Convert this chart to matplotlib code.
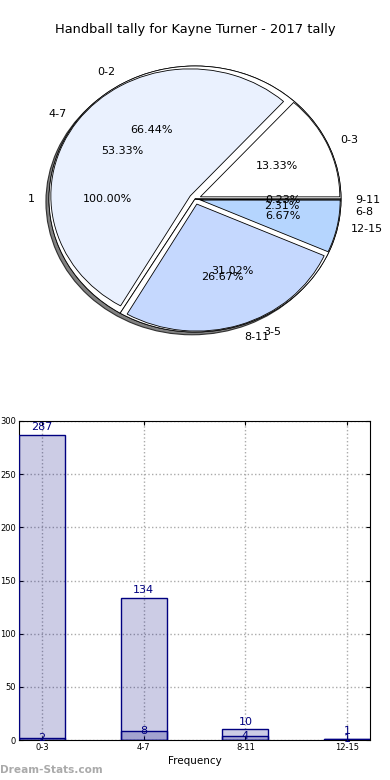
import numpy as np
import matplotlib
matplotlib.use('Agg')
import matplotlib.pyplot as plt

title = 'Handball tally for Kayne Turner - 2017 tally'

# bar chart / inner pie categories
bins = ['0-3', '4-7', '8-11', '12-15']
totals = [287, 134, 10, 1]
hits = [2, 8, 4, 1]

# second pie (same counts, other labels)
bins_b = ['0-2', '3-5', '6-8', '9-11']
# single-slice pie
bins_c = ['1']
vals_c = [1]

fig = plt.figure(figsize=(3.9, 7.8), dpi=100)
fig.text(0.5, 1 - 30 / 780, title, ha='center', va='center', fontsize=9.4)

# --- pie ---
ax = fig.add_axes([12.5 / 390, 414.75 / 780, 365 / 390, 332.5 / 780])
wp = dict(edgecolor='black', linewidth=0.6)
shd = dict(ox=-0.015, oy=-0.015, shade=0.55, alpha=0.9, edgecolor='#222222', linewidth=0.8)
ax.pie(vals_c, labels=bins_c, autopct='%1.2f%%', colors=['white'],
       shadow=shd, wedgeprops=wp, textprops=dict(fontsize=8))
ax.pie(totals, labels=bins_b, autopct='%1.2f%%',
       colors=['white', 'white', 'white', '#555555'],
       wedgeprops=wp, textprops=dict(fontsize=8))
ax.pie(hits, labels=bins, autopct='%1.2f%%', explode=[0.04] * 4, radius=0.955,
       colors=['#ffffff', '#eaf1fe', '#c5d8fe', '#b5d5fe'],
       wedgeprops=wp, textprops=dict(fontsize=8))
ax.set_aspect('auto')
ax.set_xlim(-1.25, 1.25)
ax.set_ylim(-1.25, 1.25)

# --- bars ---
bx = fig.add_axes([19 / 390, 40 / 780, 351 / 390, 319 / 780])
x = np.arange(len(bins))
w = 0.45
bx.bar(x, totals, w, color='navy', alpha=0.2, zorder=2)
bx.bar(x, totals, w, facecolor='none', edgecolor='navy', linewidth=1, zorder=3)
bx.bar(x, hits, w, color='navy', alpha=0.2, zorder=2)
bx.bar(x, hits, w, facecolor='none', edgecolor='navy', linewidth=1, zorder=3)
for i in range(len(bins)):
    bx.annotate(str(totals[i]), (x[i], totals[i]), xytext=(0, 2),
                textcoords='offset points', ha='center', va='bottom',
                color='navy', fontsize=8)
    bx.text(x[i], hits[i], str(hits[i]), ha='center', va='center',
            color='navy', fontsize=8)
bx.set_xlim(-w / 2, len(bins) - 1 + w / 2)
bx.set_ylim(0, 300)
bx.set_yticks(range(0, 301, 50))
bx.set_xticks(x)
bx.set_xticklabels(bins)
bx.tick_params(labelsize=6, direction='in', top=True, right=True, length=3, pad=2)
bx.grid(True, linestyle=':', color='#aaaaaa', linewidth=1)
bx.set_axisbelow(True)
bx.set_xlabel('Frequency', fontsize=7.5, labelpad=3)

fig.text(0, 10 / 780, 'Dream-Stats.com', fontsize=7.6, fontweight='bold',
         color='#aaaaaa', ha='left', va='center')

fig.savefig('out.png', dpi=100)
